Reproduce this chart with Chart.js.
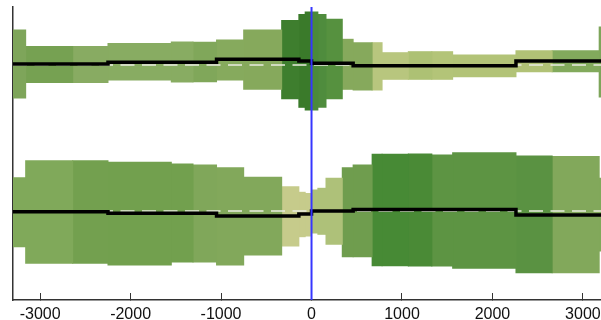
<!DOCTYPE html>
<html>
<head>
<meta charset="utf-8">
<script src="https://cdn.jsdelivr.net/npm/chart.js@4.4.1/dist/chart.umd.min.js"></script>
<style>
    html, body { margin: 0; padding: 0; background: #fff; }
    canvas { display: block; }
</style>
</head>
<body>
<canvas id="trackChart" width="601" height="320"></canvas>
<script>
// --- DATA ---

// bin edges along the position axis (24 bins)
const binEdges = [-3300, -3160, -2640, -2250, -1550, -1310, -1050, -750, -330, -140, -70, 0,
    70, 160, 340, 460, 670, 780, 1070, 1330, 1560, 2260, 2660, 3180, 3330];

const xTicks = [-3000, -2000, -1000, 0, 1000, 2000, 3000];

// upper track: band edges and median, relative to the track's reference line
const topUpper = [35, 18.5, 18.5, 21.5, 23, 22.7, 25, 35, 44.5, 50.5, 53, 53,
    50.5, 45.7, 25.7, 22.3, 22.3, 12.3, 13.3, 13.3, 10, 14.3, 14.3, 38];
const topLower = [-33, -17.5, -17.5, -15, -17, -16.7, -15, -24.3, -33.7, -42.3, -45, -45,
    -42.3, -33.7, -24.3, -25, -25, -14.3, -14.3, -14.3, -11.7, -6.7, -6.7, -32];
const topMedian = [1, 1, 1, 2.8, 2.8, 2.8, 5.7, 5.7, 5.7, 4, 4, 1.7,
    1.7, 1.7, 1.7, -0.8, -0.8, -0.8, -0.8, -0.8, -0.8, 4, 4, 4];

// lower track
const bottomUpper = [33.3, 50.3, 50.3, 48.7, 47, 46, 43.3, 33.7, 24.3, 18.7, 17.5, 21,
    22.7, 32.7, 43.3, 46, 56.7, 56.7, 57, 56, 58.3, 55, 54.5, 32.7];
const bottomLower = [-35.7, -52.3, -52.3, -54, -51, -51, -54, -44, -35, -25.7, -25, -22,
    -23.3, -33.3, -45.7, -45.7, -54.7, -54.7, -55, -55, -57.3, -61.7, -61.7, -40];
const bottomMedian = [-0.7, -0.7, -0.7, -2.3, -2.3, -2.3, -5, -5, -5, -3, -3, 0,
    0, 0, 0, 1.5, 1.5, 1.5, 1.5, 1.5, 1.5, -4, -4, -4];

// --- STYLE ---

const topColors = ['#7ea55a', '#76a152', '#88ab62', '#88ac62', '#88ac62', '#80a75a', '#86aa5d', '#86a95c',
    '#3e7e2e', '#3a7a2a', '#3a7a2a', '#4b8a3a', '#4f8c3d', '#56913f', '#86a95c', '#86a95c',
    '#b8c67e', '#b8c67e', '#adc174', '#b3c478', '#b2c377', '#b1c276', '#82aa5c', '#7ea55a'];
const bottomColors = ['#80a95a', '#80a95a', '#73a04f', '#72a04e', '#72a04e', '#80a75a', '#82a85b', '#82a85b',
    '#c6cb8b', '#c6cb8b', '#c6cb8b', '#aec179', '#aec179', '#aec179', '#6f9d4e', '#6f9d4e',
    '#478a35', '#478a35', '#4a8a36', '#5d9443', '#5d9443', '#5a9242', '#82a85b', '#80a95a'];

// vertical layout: value range of the y scale and where each track sits in it
const yMax = 293;
const topLevel = 235;
const bottomLevel = 89;

// one flat step per bin
function stepPoints(values, level) {
    const pts = [];
    values.forEach((v, i) => {
        pts.push({ x: binEdges[i], y: level + v });
        pts.push({ x: binEdges[i + 1], y: level + v });
    });
    return pts;
}

function refLine(level) {
    return [{ x: binEdges[0], y: level }, { x: binEdges[binEdges.length - 1], y: level }];
}

// one floating bar per bin, as wide as the bin on the x scale
function band(upper, lower, level, colors) {
    return upper.map((hi, i) => {
        const x0 = binEdges[i], x1 = binEdges[i + 1];
        return {
            type: 'bar',
            data: [{ x: (x0 + x1) / 2, y: [level + lower[i], level + hi] }],
            backgroundColor: colors[i],
            borderWidth: 0,
            grouped: false,
            inflateAmount: 0.5,
            barThickness: c => {
                const s = c.chart.scales.x;
                return s.getPixelForValue(x1) - s.getPixelForValue(x0);
            },
            order: 3
        };
    });
}

const medianStyle = { type: 'line', borderColor: '#000', borderWidth: 3.5, fill: false, order: 1 };
const refStyle = { type: 'line', borderColor: '#e9ecdf', borderWidth: 1.6, borderDash: [14, 7.5], fill: false, order: 2 };

new Chart(document.getElementById('trackChart'), {
    type: 'bar',
    data: {
        datasets: [
            { type: 'line', data: [{ x: 0, y: 0 }, { x: 0, y: yMax }], borderColor: '#3636ff', borderWidth: 2, fill: false, order: 0 },
            { data: stepPoints(topMedian, topLevel), ...medianStyle },
            { data: stepPoints(bottomMedian, bottomLevel), ...medianStyle },
            { data: refLine(topLevel), ...refStyle },
            { data: refLine(bottomLevel), ...refStyle },
            ...band(topUpper, topLower, topLevel, topColors),
            ...band(bottomUpper, bottomLower, bottomLevel, bottomColors)
        ]
    },
    options: {
        responsive: false,
        animation: false,
        events: [],
        layout: { padding: { top: 7, left: 13, right: 0, bottom: 0 } },
        elements: { point: { radius: 0 }, line: { tension: 0 } },
        plugins: {
            legend: { display: false },
            tooltip: { enabled: false }
        },
        scales: {
            x: {
                type: 'linear',
                min: -3300,
                max: 3200,
                offset: false,
                afterBuildTicks: s => { s.ticks = xTicks.map(v => ({ value: v })); },
                afterFit: s => {
                    s.height = 20;
                    s.paddingLeft = 0;
                    s.paddingRight = 0;
                },
                ticks: {
                    padding: 12,
                    color: '#111',
                    font: { family: '"Liberation Sans", Arial, Helvetica, sans-serif', size: 16 },
                    callback: v => String(v)
                },
                grid: { offset: false, drawOnChartArea: false, tickLength: -7, color: '#333', lineWidth: 1 },
                border: { color: '#333', width: 1.5 }
            },
            y: {
                type: 'linear',
                min: 0,
                max: yMax,
                afterFit: s => { s.width = 0; },
                ticks: { display: false },
                grid: { display: false },
                border: { color: '#333', width: 1.5 }
            }
        }
    }
});
</script>
</body>
</html>
